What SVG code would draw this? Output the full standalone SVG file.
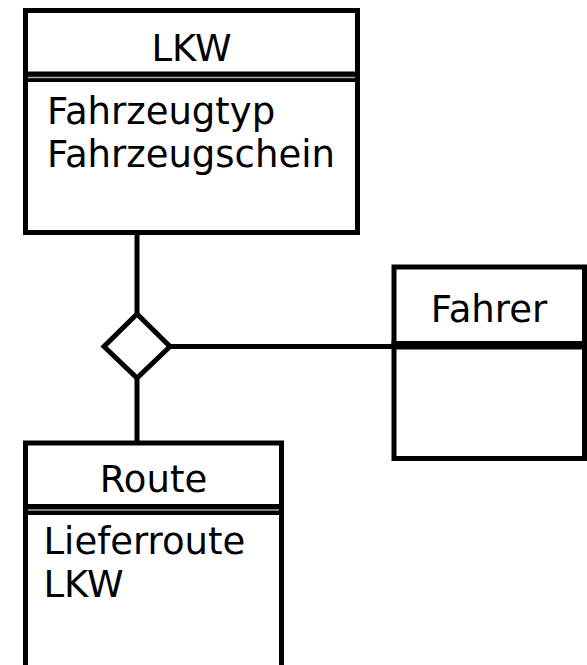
<svg xmlns="http://www.w3.org/2000/svg" width="587" height="665" viewBox="0 0 587 665">
<style>
.box{fill:#fff;stroke:#000;stroke-width:5}
.band{fill:#000}
.gap{stroke:#aaa;stroke-width:1.5}
.t{font-family:"DejaVu Sans",sans-serif;font-size:37px;fill:#000}
.c{text-anchor:middle}
.con{stroke:#000;stroke-width:5;fill:none}
</style>
<rect x="0" y="0" width="587" height="665" fill="#fff"/>
<g id="connectors">
<line class="con" x1="137" y1="232" x2="137" y2="314"/>
<line class="con" x1="137" y1="378" x2="137" y2="443"/>
<line class="con" x1="170" y1="346.5" x2="394" y2="346.5"/>
<polygon class="con" points="137,314 170,346.5 137,378 104,346.5" fill="#fff"/>
</g>
<g id="lkw">
<rect class="box" x="25.5" y="10.5" width="332" height="222"/>
<rect class="band" x="23" y="71.5" width="337" height="10.5"/>
<line class="gap" x1="28" y1="77.5" x2="355" y2="77.5"/>
<text class="t c" x="191.5" y="61">LKW</text>
<text class="t" x="47" y="124">Fahrzeugtyp</text>
<text class="t" x="47" y="166.5">Fahrzeugschein</text>
</g>
<g id="fahrer">
<rect class="box" x="394" y="267" width="190.5" height="191.5"/>
<rect class="band" x="391.5" y="341" width="195.5" height="8.5"/>
<text class="t c" x="489" y="321.5">Fahrer</text>
</g>
<g id="route">
<rect class="box" x="25.5" y="443" width="256" height="240"/>
<rect class="band" x="23" y="504" width="261" height="11"/>
<line class="gap" x1="28" y1="510" x2="279" y2="510"/>
<text class="t c" x="153.5" y="491.5">Route</text>
<text class="t" x="43.5" y="553.5">Lieferroute</text>
<text class="t" x="43.5" y="596.5">LKW</text>
</g>
</svg>
